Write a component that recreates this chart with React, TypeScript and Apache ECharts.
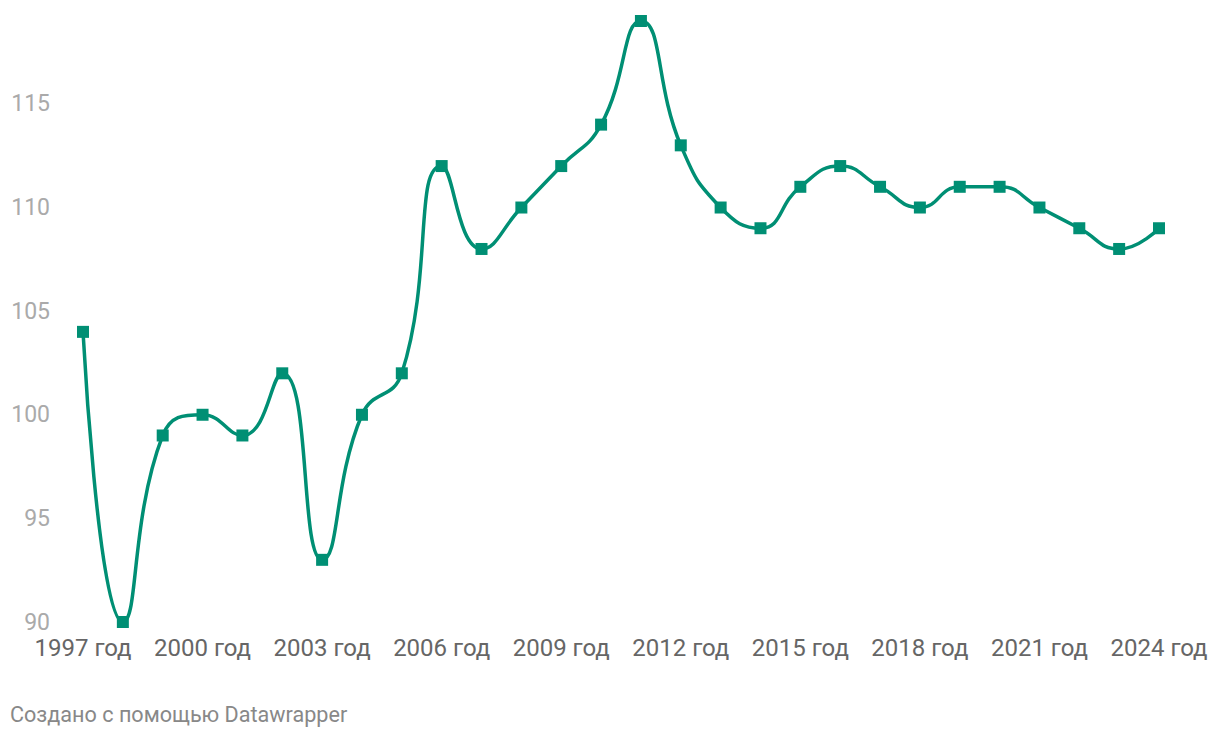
import React, { useEffect, useRef } from "react";
import * as echarts from "echarts";

const years = [
  "1997", "1998", "1999", "2000", "2001", "2002", "2003", "2004", "2005", "2006",
  "2007", "2008", "2009", "2010", "2011", "2012", "2013", "2014", "2015", "2016",
  "2017", "2018", "2019", "2020", "2021", "2022", "2023", "2024",
];
const values = [
  104, 90, 99, 100, 99, 102, 93, 100, 102, 112,
  108, 110, 112, 114, 119, 113, 110, 109, 111, 112,
  111, 110, 111, 111, 110, 109, 108, 109,
];
const yTicks = [90, 95, 100, 105, 110, 115];
const footer = "Создано с помощью Datawrapper";

export default function App() {
  const ref = useRef<HTMLDivElement>(null);
  useEffect(() => {
    const chart = echarts.init(ref.current!, null, { renderer: "svg" });
    chart.setOption({
      animation: false,
      backgroundColor: "#ffffff",
      grid: { left: 83, right: 61, top: 21, bottom: 116, containLabel: false },
      xAxis: {
        type: "category",
        data: years,
        boundaryGap: false,
        axisLine: { show: false },
        axisTick: { show: false },
        axisLabel: {
          interval: 2,
          margin: 14,
          color: "#666666",
          fontSize: 24,
          fontFamily: "Roboto",
          formatter: (v: string) => v + " год",
        },
        splitLine: { show: false },
      },
      yAxis: {
        type: "value",
        min: 90,
        max: 119,
        interval: 5,
        axisLine: { show: false },
        axisTick: { show: false },
        splitLine: { show: false },
        axisLabel: {
          margin: 33,
          color: "#aaaaaa",
          fontSize: 23,
          fontFamily: "Roboto",
          formatter: (v: number) => (yTicks.includes(v) ? String(v) : ""),
        },
      },
      graphic: [
        {
          type: "text",
          left: 10,
          top: 703,
          style: {
            text: footer,
            fill: "#888888",
            fontSize: 21.6,
            fontFamily: "Roboto",
          },
        },
      ],
      series: [
        {
          type: "line",
          data: values,
          smooth: 0.5,
          symbol: "rect",
          symbolSize: 12,
          showAllSymbol: true,
          lineStyle: { color: "#008f74", width: 3.5 },
          itemStyle: { color: "#008f74" },
        },
      ],
    });
    return () => chart.dispose();
  }, []);
  return (
    <div
      ref={ref}
      style={{ position: "fixed", left: 0, top: 0, width: 1220, height: 738, background: "#fff" }}
    />
  );
}
